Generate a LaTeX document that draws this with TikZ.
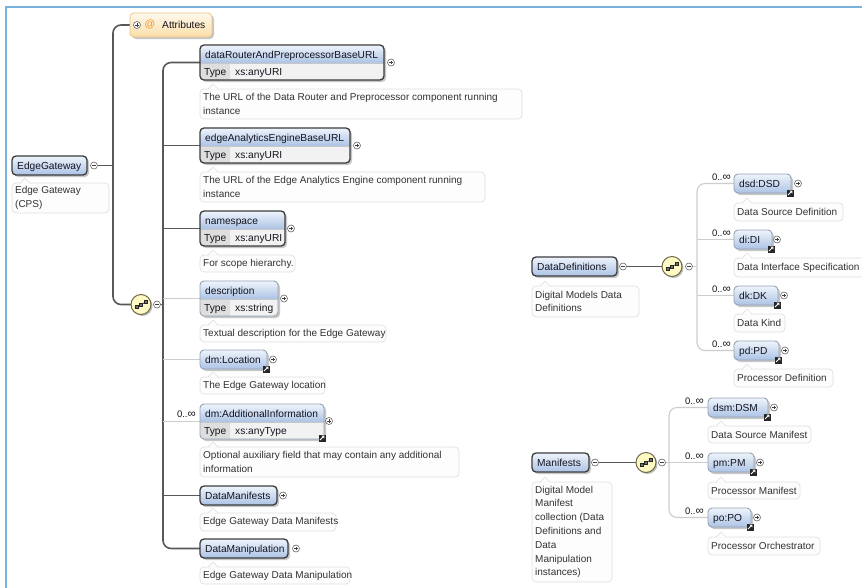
\documentclass[tikz,border=0pt]{standalone}
\usepackage{fontspec}
\setmainfont{Liberation Sans}
\usetikzlibrary{backgrounds}
\definecolor{hdtop}{RGB}{238,244,252}
\definecolor{hdbot}{RGB}{172,195,229}
\definecolor{darkb}{RGB}{60,60,60}
\definecolor{lightb}{RGB}{150,162,180}
\definecolor{typec}{RGB}{222,222,222}
\definecolor{valc}{RGB}{242,242,242}
\definecolor{docfill}{RGB}{253,253,253}
\definecolor{docline}{RGB}{224,224,224}
\definecolor{trunkc}{RGB}{88,88,88}
\definecolor{optc}{RGB}{205,205,205}
\definecolor{framec}{RGB}{122,178,219}
\definecolor{seqfill}{RGB}{255,249,196}
\definecolor{seqline}{RGB}{110,104,70}
\definecolor{attrtop}{RGB}{255,249,236}
\definecolor{attrbot}{RGB}{251,222,168}
\definecolor{attrline}{RGB}{236,196,130}
\definecolor{atc}{RGB}{240,150,40}
\definecolor{txtc}{RGB}{20,20,30}
\definecolor{doctxt}{RGB}{50,50,50}
\tikzset{
 ebox/.style={rectangle, rounded corners=4pt, inner sep=0pt, outer sep=0pt, top color=hdtop, bottom color=hdbot},
 eboxline/.style={rectangle, rounded corners=4pt, inner sep=0pt, outer sep=0pt},
 mand/.style={draw=darkb, line width=1.3pt},
 opt/.style={draw=lightb, line width=0.9pt},
 etext/.style={inner sep=0pt, font=\fontsize{10.2}{12}\selectfont, text=txtc},
 dtext/.style={inner sep=0pt, font=\fontsize{10}{13.8}\selectfont, text=doctxt, align=left},
 docbox/.style={rectangle, rounded corners=4pt, inner sep=0pt, outer sep=0pt, fill=docfill, draw=docline, line width=0.7pt},
 xcirc/.style={circle, draw=black!60, fill=white, minimum size=7pt, inner sep=0pt, outer sep=0pt, line width=0.6pt},
 signl/.style={black!75, line width=0.6pt},
 seqc/.style={circle, minimum size=20pt, inner sep=0pt, outer sep=0pt, fill=seqfill, draw=seqline, line width=1pt},
 trunk/.style={trunkc, line width=1.6pt},
 optl/.style={optc, line width=1.1pt},
 mult/.style={inner sep=0pt, font=\fontsize{9.5}{11}\selectfont, text=txtc},
 shadowc/.style={fill=black!22},
 attrbox/.style={rectangle, rounded corners=4pt, inner sep=0pt, outer sep=0pt, top color=attrtop, bottom color=attrbot, draw=attrline, line width=0.8pt},
}
\newcommand\Infty{{\fontsize{11.5}{11}\selectfont ∞}}
% single-row element box: id x y w title style
\newcommand\ElemOne[6]{%
 \fill[shadowc, rounded corners=4pt] (#2+2,#3+2) rectangle ++(#4,19);
 \node[ebox, #6, minimum width=#4pt, minimum height=19pt, anchor=north west] (#1) at (#2,#3) {};
 \node[etext, anchor=base west] at (#2+5,#3+13) {#5};
}
% two-row element box: id x y w title type style
\newcommand\ElemTwo[7]{%
 \fill[shadowc, rounded corners=4pt] (#2+2,#3+2) rectangle ++(#4,35);
 \begin{scope}
  \clip[rounded corners=4pt] (#2,#3) rectangle ++(#4,35);
  \fill[top color=hdtop, bottom color=hdbot] (#2,#3) rectangle ++(#4,18);
  \fill[typec] (#2,#3+18) rectangle ++(30,17);
  \fill[valc] (#2+30,#3+18) rectangle (#2+#4,#3+35);
 \end{scope}
 \draw[black!22, line width=0.5pt] (#2,#3+18) -- (#2+#4,#3+18);
 \node[eboxline, #7, minimum width=#4pt, minimum height=35pt, anchor=north west] (#1) at (#2,#3) {};
 \node[etext, anchor=base west] at (#2+5,#3+13) {#5};
 \node[etext, anchor=base west] at (#2+4,#3+30) {Type};
 \node[etext, anchor=base west] at (#2+35,#3+30) {#6};
}
% documentation box: id x y w h text
\newcommand\DocBox[6]{%
 \node[docbox, minimum width=#4pt, minimum height=#5pt, anchor=north west] (#1) at (#2,#3) {};
 \fill[docfill] (#2+8,#3+0.6) -- (#2+13,#3-5) -- (#2+18,#3+0.6) -- cycle;
 \draw[docline, line width=0.7pt] (#2+8,#3) -- (#2+13,#3-5) -- (#2+18,#3);
 \node[dtext, anchor=west] at (#2+3,#3+#5/2) {#6};
}
\newcommand\PlusIcon[3]{%
 \node[xcirc] (#1) at (#2,#3) {};
 \draw[signl] (#2-1.6,#3) -- (#2+1.6,#3) (#2,#3-1.6) -- (#2,#3+1.6);
}
\newcommand\MinusIcon[3]{%
 \node[xcirc] (#1) at (#2,#3) {};
 \draw[signl] (#2-1.8,#3) -- (#2+1.8,#3);
}
\newcommand\SeqIcon[3]{%
 \fill[black!25] (#2+1.5,#3+1.5) circle (10pt);
 \node[seqc] (#1) at (#2,#3) {};
 \draw[black!75, line width=0.7pt] (#2-6,#3+3) -- (#2+6,#3-3);
 \filldraw[fill=black!55, draw=black!85, line width=0.3pt] (#2-6.1,#3+0.9) rectangle ++(3.2,3.2);
 \filldraw[fill=black!55, draw=black!85, line width=0.3pt] (#2-1.6,#3-1.6) rectangle ++(3.2,3.2);
 \filldraw[fill=black!55, draw=black!85, line width=0.3pt] (#2+2.9,#3-4.1) rectangle ++(3.2,3.2);
}
\newcommand\RefIcon[2]{%
 \fill[black!85] (#1-3.5,#2-3.5) rectangle ++(7,7);
 \draw[white, line width=0.8pt] (#1-2,#2+2) -- (#1+1.2,#2-1.2);
 \fill[white] (#1+2.4,#2-2.4) -- (#1-0.6,#2-2.4) -- (#1+2.4,#2+0.6) -- cycle;
}
\begin{document}
\begin{tikzpicture}[x=1pt,y=-1pt]
\useasboundingbox (0,0) rectangle (862,587);
\begin{scope}[on background layer]
 \fill[white] (0,0) rectangle (862,587);
\end{scope}

% ---------- left: EdgeGateway ----------
\ElemOne{eg}{12}{156}{75}{EdgeGateway}{mand}
\MinusIcon{egm}{94}{165.5}
\DocBox{egdoc}{12}{183}{97}{30}{Edge Gateway\\(CPS)}

% Attributes
\fill[shadowc, rounded corners=4pt] (132,15) rectangle ++(82,24);
\node[attrbox, minimum width=82pt, minimum height=24pt, anchor=north west] (attr) at (130,13) {};
\PlusIcon{attrp}{137}{25}
\node[inner sep=0pt, font=\fontsize{10.5}{12}\selectfont, text=atc] (attrat) at (150,24.5) {@};
\node[etext, anchor=west] (attrtxt) at (162,25) {Attributes};

\SeqIcon{seqA}{141}{304.5}
\MinusIcon{seqAm}{157}{304.5}

\ElemTwo{dr}{200}{45}{184}{dataRouterAndPreprocessorBaseURL}{xs:anyURI}{mand}
\PlusIcon{drp}{391}{62.5}
\DocBox{drdoc}{200}{89}{322}{30}{The URL of the Data Router and Preprocessor component running\\instance}

\ElemTwo{ea}{200}{128}{150}{edgeAnalyticsEngineBaseURL}{xs:anyURI}{mand}
\PlusIcon{eap}{357}{145.5}
\DocBox{eadoc}{200}{172}{285}{30}{The URL of the Edge Analytics Engine component running\\instance}

\ElemTwo{ns}{200}{211}{85}{namespace}{xs:anyURI}{mand}
\PlusIcon{nsp}{291}{228.5}
\DocBox{nsdoc}{200}{255}{95}{17}{For scope hierarchy.}

\ElemTwo{desc}{200}{281}{78}{description}{xs:string}{opt}
\PlusIcon{descp}{284}{298.5}
\DocBox{descdoc}{200}{325}{186}{17}{Textual description for the Edge Gateway}

\ElemOne{loc}{200}{350}{67}{dm:Location}{opt}
\RefIcon{266}{369}
\PlusIcon{locp}{273}{359.5}
\DocBox{locdoc}{200}{377}{125}{17}{The Edge Gateway location}

\ElemTwo{add}{200}{404}{124}{dm:AdditionalInformation}{xs:anyType}{opt}
\RefIcon{322}{438}
\PlusIcon{addp}{329}{421}
\node[mult, anchor=east] (addmult) at (196,414.5) {0..\Infty};
\DocBox{adddoc}{200}{447}{259}{30}{Optional auxiliary field that may contain any additional\\information}

\ElemOne{dman}{200}{486}{77}{DataManifests}{mand}
\PlusIcon{dmanp}{283}{495.5}
\DocBox{dmandoc}{200}{513}{136}{18}{Edge Gateway Data Manifests}

\ElemOne{dmp}{200}{539}{88}{DataManipulation}{mand}
\PlusIcon{dmpp}{296}{548.5}
\DocBox{dmpdoc}{200}{567}{150}{17}{Edge Gateway Data Manipulation}

% ---------- right: DataDefinitions ----------
\ElemOne{dd}{532}{257}{85}{DataDefinitions}{mand}
\MinusIcon{ddm}{623}{266.5}
\DocBox{dddoc}{532}{286}{107}{31}{Digital Models Data\\Definitions}
\SeqIcon{seqB}{672}{266.5}
\MinusIcon{seqBm}{689}{266.5}

\ElemOne{dsd}{734}{174}{57}{dsd:DSD}{opt}
\RefIcon{790}{193}
\PlusIcon{dsdp}{798}{183.5}
\node[mult, anchor=east] (dsdmult) at (731,177) {0..\Infty};
\DocBox{dsddoc}{734}{203}{109}{18}{Data Source Definition}

\ElemOne{di}{734}{230}{38}{di:DI}{opt}
\RefIcon{771}{249}
\PlusIcon{dip}{777}{239.5}
\node[mult, anchor=east] (dimult) at (731,233) {0..\Infty};
\DocBox{didoc}{734}{258}{140}{19}{Data Interface Specification}

\ElemOne{dk}{734}{286}{44}{dk:DK}{opt}
\RefIcon{777}{305}
\PlusIcon{dkp}{784}{295.5}
\node[mult, anchor=east] (dkmult) at (731,289) {0..\Infty};
\DocBox{dkdoc}{734}{314}{51}{18}{Data Kind}

\ElemOne{pd}{734}{341}{45}{pd:PD}{opt}
\RefIcon{778}{360}
\PlusIcon{pdp}{785}{350.5}
\node[mult, anchor=east] (pdmult) at (731,344) {0..\Infty};
\DocBox{pddoc}{734}{369}{99}{18}{Processor Definition}

% ---------- right: Manifests ----------
\ElemOne{man}{532}{453}{57}{Manifests}{mand}
\MinusIcon{manm}{595}{462.5}
\DocBox{mandoc}{532}{482}{80}{100}{Digital Model\\Manifest\\collection (Data\\Definitions and\\Data\\Manipulation\\instances)}
\SeqIcon{seqC}{646}{462.5}
\MinusIcon{seqCm}{662}{462.5}

\ElemOne{dsm}{708}{398}{60}{dsm:DSM}{opt}
\RefIcon{767}{417}
\PlusIcon{dsmp}{774}{407.5}
\node[mult, anchor=east] (dsmmult) at (704,401) {0..\Infty};
\DocBox{dsmdoc}{708}{426}{103}{17}{Data Source Manifest}

\ElemOne{pm}{708}{453}{46}{pm:PM}{opt}
\RefIcon{753}{472}
\PlusIcon{pmp}{760}{462.5}
\node[mult, anchor=east] (pmmult) at (704,456) {0..\Infty};
\DocBox{pmdoc}{708}{482}{92}{17}{Processor Manifest}

\ElemOne{po}{708}{508}{43}{po:PO}{opt}
\RefIcon{750}{527}
\PlusIcon{pop}{757}{517.5}
\node[mult, anchor=east] (pomult) at (704,511) {0..\Infty};
\DocBox{podoc}{708}{537}{112}{18}{Processor Orchestrator}

% ---------- connectors ----------
\coordinate (j1) at (113,165.5);
\coordinate (j2) at (163,304.5);
\coordinate (j3) at (697,266.5);
\coordinate (j4) at (669,462.5);
\begin{scope}[on background layer]
 \draw[trunk] (egm.east) -- (j1);
 \draw[trunk, rounded corners=8pt] (attr.west) -| (j1) |- (seqA.west);
 \draw[trunk] (seqAm.east) -- (j2);
 \draw[trunk, rounded corners=8pt] (dr.west) -| (j2) |- (dmp.west);
 \draw[trunk] (ea.west) -- (ea.west -| j2);
 \draw[trunk] (ns.west) -- (ns.west -| j2);
 \draw[optl] (desc.west) -- (desc.west -| j2);
 \draw[optl] (loc.west) -- (loc.west -| j2);
 \draw[optl] (add.west) -- (add.west -| j2);
 \draw[trunk] (dman.west) -- (dman.west -| j2);

 \draw[trunk] (ddm.east) -- (seqB.west);
 \draw[optl] (seqBm.east) -- (j3);
 \draw[optl, rounded corners=8pt] (dsd.west) -| (j3) |- (pd.west);
 \draw[optl] (di.west) -- (di.west -| j3);
 \draw[optl] (dk.west) -- (dk.west -| j3);

 \draw[trunk] (manm.east) -- (seqC.west);
 \draw[optl] (seqCm.east) -- (j4);
 \draw[optl, rounded corners=8pt] (dsm.west) -| (j4) |- (po.west);
 \draw[optl] (pm.west) -- (j4);
\end{scope}

% frame
\draw[framec, line width=2pt] (6,590) -- (6,6.5) -- (866,6.5);
\end{tikzpicture}
\end{document}
